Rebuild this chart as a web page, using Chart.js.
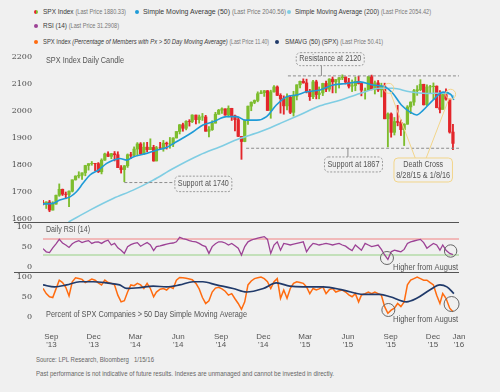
<!DOCTYPE html>
<html lang="en">
<head>
<meta charset="UTF-8">
<title>SPX Index Daily Candle, RSI and Breadth</title>
<style>
  body { margin: 0; width: 500px; height: 392px; background: #f0f0f0; position: relative; overflow: hidden;
         font-family: "Liberation Sans", Arial, sans-serif; color: #444; }
  canvas { position: absolute; left: 0; }
  .dot { position: absolute; width: 4px; height: 4px; border-radius: 50%; }
  .fit { position: absolute; white-space: nowrap; transform-origin: 0 50%; line-height: 1; }
  .lg { font-size: 7.5px; color: #3a3a3a; }
  .lg span { color: #777; font-size: 6.5px; }
  .sep { position: absolute; left: 14px; width: 445px; height: 1px; background: #555; }
  .foot { font-size: 7px; color: #666; }
</style>
</head>
<body>
  <i class="dot" style="left:34px;top:10px;background:linear-gradient(90deg,#e3262b 50%,#7dbd2e 50%)"></i>
  <div class="fit lg" data-w="83" style="left:43px;top:8px">SPX Index <span>(Last Price 1880.33)</span></div>
  <i class="dot" style="left:135px;top:10px;background:#1f9bd7"></i>
  <div class="fit lg" data-w="143" style="left:143px;top:8px">Simple Moving Average (50) <span>(Last Price 2040.56)</span></div>
  <i class="dot" style="left:287px;top:10px;background:#7fcde3"></i>
  <div class="fit lg" data-w="136" style="left:295px;top:8px">Simple Moving Average (200) <span>(Last Price 2054.42)</span></div>

  <i class="dot" style="left:34px;top:24px;background:#9c4295"></i>
  <div class="fit lg" data-w="76" style="left:43px;top:22px">RSI (14) <span>(Last Price 31.2908)</span></div>

  <i class="dot" style="left:34px;top:40px;background:#ff6b0f"></i>
  <div class="fit lg" data-w="226" style="left:43px;top:38px">SPX Index <i>(Percentage of Members with Px &gt; 50 Day Moving Average)</i> <span>(Last Price 11.40)</span></div>
  <i class="dot" style="left:275px;top:40px;background:#203a6a"></i>
  <div class="fit lg" data-w="98" style="left:285px;top:38px">SMAVG (50) (SPX) <span>(Last Price 50.41)</span></div>

  <canvas id="price" width="475" height="176" style="top:46px"></canvas>
  <canvas id="rsi" width="475" height="50" style="top:222px"></canvas>
  <canvas id="pct" width="475" height="80" style="top:272px"></canvas>
  <div class="sep" style="top:222px"></div>
  <div class="sep" style="top:272px"></div>

  <div class="fit foot" data-w="118" style="left:36px;top:356px">Source: LPL Research, Bloomberg&nbsp;&nbsp;&nbsp;1/15/16</div>
  <div class="fit foot" data-w="298" style="left:36px;top:370px">Past performance is not indicative of future results. Indexes are unmanaged and cannot be invested in directly.</div>

  <script src="https://cdn.jsdelivr.net/npm/chart.js"></script>
  <script>
    // weekly candles (week ending)
    const weeks = ['2013-08-16','2013-08-23','2013-08-30','2013-09-06','2013-09-13','2013-09-20','2013-09-27','2013-10-04','2013-10-11','2013-10-18','2013-10-25','2013-11-01','2013-11-08','2013-11-15','2013-11-22','2013-11-29','2013-12-06','2013-12-13','2013-12-20','2013-12-27',
      '2014-01-03','2014-01-10','2014-01-17','2014-01-24','2014-01-31','2014-02-07','2014-02-14','2014-02-21','2014-02-28','2014-03-07','2014-03-14','2014-03-21','2014-03-28','2014-04-04','2014-04-11','2014-04-17','2014-04-25','2014-05-02','2014-05-09','2014-05-16','2014-05-23','2014-05-30','2014-06-06','2014-06-13','2014-06-20','2014-06-27','2014-07-03','2014-07-11','2014-07-18','2014-07-25','2014-08-01','2014-08-08','2014-08-15','2014-08-22','2014-08-29','2014-09-05','2014-09-12','2014-09-19','2014-09-26','2014-10-03','2014-10-10','2014-10-17','2014-10-24','2014-10-31','2014-11-07','2014-11-14','2014-11-21','2014-11-28','2014-12-05','2014-12-12','2014-12-19','2014-12-26',
      '2015-01-02','2015-01-09','2015-01-16','2015-01-23','2015-01-30','2015-02-06','2015-02-13','2015-02-20','2015-02-27','2015-03-06','2015-03-13','2015-03-20','2015-03-27','2015-04-02','2015-04-10','2015-04-17','2015-04-24','2015-05-01','2015-05-08','2015-05-15','2015-05-22','2015-05-29','2015-06-05','2015-06-12','2015-06-19','2015-06-26','2015-07-02','2015-07-10','2015-07-17','2015-07-24','2015-07-31','2015-08-07','2015-08-14','2015-08-21','2015-08-28','2015-09-04','2015-09-11','2015-09-18','2015-09-25','2015-10-02','2015-10-09','2015-10-16','2015-10-23','2015-10-30','2015-11-06','2015-11-13','2015-11-20','2015-11-27','2015-12-04','2015-12-11','2015-12-18','2015-12-24','2015-12-31',
      '2016-01-08','2016-01-15'];
    const firstOpen = 1661;
    const spxLow = [1652,1639,1627,1633,1656,1684,1687,1675,1646,1700,1744,1752,1747,1760,1781,1799,1779,1772,1767,1817,
      1831,1823,1815,1790,1770,1738,1791,1824,1834,1834,1839,1839,1849,1857,1814,1820,1858,1851,1859,1862,1868,1900,1915,1925,1930,1944,1957,1952,1955,1965,1925,1904,1928,1956,1989,1991,1984,1978,1965,1926,1905,1821,1886,1950,2001,2027,2034,2064,2054,2002,1973,2070,
      2057,1992,1988,2004,1990,1981,2041,2085,2103,2067,2039,2046,2045,2045,2057,2072,2073,2067,2067,2085,2116,2100,2085,2072,2075,2100,2056,2044,2077,2078,2063,2072,2052,1971,1867,1903,1911,1945,1909,1872,1951,1990,2021,2058,2075,2022,2020,2067,2043,2012,1993,2006,2040,
      1918,1857];
    const spxHigh = [1669,1664,1669,1664,1689,1730,1711,1700,1704,1745,1760,1775,1771,1799,1805,1813,1806,1809,1823,1844,
      1849,1843,1850,1849,1798,1798,1841,1847,1867,1883,1883,1883,1884,1897,1873,1869,1884,1891,1885,1902,1901,1924,1950,1955,1964,1968,1986,1983,1985,1991,1984,1942,1964,1995,2006,2012,2008,2019,2009,1985,1977,1906,1965,2018,2034,2041,2071,2076,2076,2076,2077,2094,
      2093,2064,2056,2064,2057,2073,2097,2111,2119,2118,2080,2114,2114,2089,2103,2111,2120,2126,2117,2124,2134,2126,2121,2115,2126,2129,2101,2085,2128,2133,2111,2113,2103,2103,1993,1993,1976,2021,1967,1953,2020,2034,2080,2094,2116,2091,2097,2095,2104,2093,2076,2067,2082,
      2044,1951];
    const spxClose = [1655,1663,1633,1655,1688,1710,1692,1691,1703,1745,1759,1762,1771,1798,1805,1806,1805,1775,1818,1841,
      1832,1842,1838,1790,1783,1797,1838,1836,1859,1878,1841,1866,1857,1865,1815,1864,1863,1881,1878,1878,1900,1924,1949,1936,1962,1961,1985,1968,1978,1978,1925,1931,1955,1988,2003,2008,1985,2010,1982,1968,1906,1887,1965,2018,2032,2039,2064,2068,2075,2002,2071,2089,
      2058,2045,2019,2051,1995,2055,2097,2110,2104,2071,2053,2108,2061,2067,2102,2081,2118,2108,2116,2123,2126,2107,2092,2094,2110,2102,2077,2077,2127,2080,2104,2078,2092,1971,1989,1921,1961,1958,1931,1951,2015,2033,2075,2079,2099,2023,2089,2090,2092,2012,2006,2061,2044,
      1922,1880];

    const sma50Dates = ['2013-08-14','2013-09-05','2013-09-19','2013-10-11','2013-10-25','2013-11-08','2013-11-23','2013-12-11','2013-12-29','2014-01-12','2014-01-26','2014-02-10','2014-02-24','2014-03-25','2014-04-15','2014-05-07','2014-05-28','2014-07-03','2014-07-24','2014-08-15','2014-09-13','2014-10-05','2014-10-23','2014-11-17','2014-12-08','2014-12-29','2015-01-20','2015-02-10','2015-03-04','2015-04-02','2015-04-30','2015-05-29','2015-06-27','2015-07-25','2015-08-19','2015-09-06','2015-09-24','2015-10-12','2015-10-27','2015-11-10','2015-12-01','2015-12-23','2016-01-08','2016-01-15'];
    const sma50 = [1656,1658,1670,1682,1701,1732,1763,1781,1806,1818,1824,1818,1830,1843,1855,1865,1886,1923,1948,1960,1979,1979,1966,1966,1979,2022,2053,2059,2071,2078,2096,2102,2108,2096,2090,2065,2022,1997,1985,2003,2040,2070,2062,2041];

    const sma200Dates = ['2013-10-08','2013-11-23','2014-01-12','2014-02-24','2014-04-08','2014-05-21','2014-07-17','2014-08-29','2014-10-11','2014-11-24','2015-01-06','2015-02-17','2015-04-02','2015-05-15','2015-06-27','2015-08-09','2015-09-06','2015-10-12','2015-11-18','2015-12-31','2016-01-15'];
    const sma200 = [1589,1633,1676,1707,1744,1787,1837,1867,1898,1923,1954,1985,2019,2040,2065,2084,2084,2071,2065,2066,2054];

    const rsi14 = [46,38,36,48,58,69,60,55,49,58,63,66,61,64,66,59,62,63,59,64,
      67,55,59,48,42,34,51,56,59,61,52,57,61,55,41,51,53,55,57,59,
      60,63,74,71,69,66,64,63,59,54,51,34,51,58,63,63,60,55,59,53,
      47,30,51,63,67,70,72,74,76,69,34,55,63,42,59,57,55,57,59,61,
      63,38,50,59,57,55,57,59,57,55,57,59,55,52,46,41,55,48,42,59,
      55,51,53,55,44,30,19,38,42,40,38,44,59,63,65,67,69,61,47,53,
      59,55,42,55,42,34,31];

    const pctAbove50 = [71,58,50,48,70,92,86,74,52,88,98,96,94,86,90,95,92,85,80,92,
      86,84,80,54,37,40,62,80,78,84,80,71,84,71,50,62,69,71,67,75,
      71,92,99,98,97,95,93,84,70,48,33,40,62,72,74,70,64,54,58,45,
      33,18,37,80,90,96,98,100,96,88,71,88,96,46,67,46,71,84,88,86,
      84,75,58,71,67,70,75,58,68,71,62,65,67,62,55,50,58,37,54,58,
      62,58,62,58,54,25,8,16,21,33,25,37,80,92,96,100,96,92,92,86,
      80,54,33,58,46,21,12];

    const smavgDates = ['2013-08-14','2013-09-08','2013-10-04','2013-11-01','2013-11-30','2013-12-29','2014-01-26','2014-02-10','2014-03-10','2014-04-08','2014-05-07','2014-06-04','2014-07-03','2014-07-24','2014-08-22','2014-09-27','2014-10-26','2014-12-01','2014-12-29','2015-01-27','2015-02-24','2015-04-09','2015-05-22','2015-07-04','2015-08-09','2015-08-31','2015-10-05','2015-10-27','2015-11-24','2015-12-16','2015-12-31','2016-01-15'];
    const smavg50 = [80,75,80,88,88,85,80,71,73,77,75,80,88,88,80,71,62,71,85,77,75,75,67,56,56,50,37,46,67,80,75,58];

    const priceTicks = [1600,1700,1800,1900,2000,2100,2200];
    const rsiTicks = [0,50,100];
    const pctTicks = [0,50,100];
    const xTickDates = ['2013-09-01','2013-12-01','2014-03-01','2014-06-01','2014-09-01','2014-12-01','2015-03-01','2015-06-01','2015-09-01','2015-12-01','2016-01-26'];
    const xTickLabels = [['Sep',"'13"],['Dec',"'13"],['Mar',"'14"],['Jun',"'14"],['Sep',"'14"],['Dec',"'14"],['Mar',"'15"],['Jun',"'15"],['Sep',"'15"],['Dec',"'15"],['Jan',"'16"]];

    const GREEN = '#7dbd2e', RED = '#e3262b';
    const FONT = '"Liberation Sans", Arial, sans-serif';
    const DAY0 = Date.UTC(2013, 7, 1);
    function dayOf(s) { const p = s.split('-'); return (Date.UTC(+p[0], p[1] - 1, +p[2]) - DAY0) / 864e5; }
    const X_MIN = dayOf('2013-08-14'), X_MAX = dayOf('2016-01-26');

    // squeeze html labels to the width they take in the picture
    document.querySelectorAll('.fit').forEach(el => {
      const w = el.getBoundingClientRect().width;
      el.style.transform = 'scaleX(' + (el.dataset.w / w) + ')';
    });

    function fitText(c, str, x, y, w, size, align) {
      c.save();
      c.font = size + 'px ' + FONT;
      c.fillStyle = '#555';
      c.textBaseline = 'middle';
      c.textAlign = align || 'left';
      const s = w / c.measureText(str).width;
      c.translate(x, y); c.scale(s, 1);
      c.fillText(str, 0, 0);
      c.restore();
    }
    function box(c, cx, cy, w, h, stroke, dash) {
      c.save();
      c.beginPath(); c.roundRect(cx - w / 2, cy - h / 2, w, h, 4);
      c.fillStyle = '#f0f0f0'; c.fill();
      c.setLineDash(dash || []); c.strokeStyle = stroke; c.lineWidth = 1; c.stroke();
      c.restore();
    }
    function ring(c, x, y, r, col) {
      c.beginPath(); c.arc(x, y, r, 0, Math.PI * 2); c.strokeStyle = col; c.lineWidth = 1; c.stroke();
    }
    function seg(c, x1, y1, x2, y2) { c.beginPath(); c.moveTo(x1, y1); c.lineTo(x2, y2); c.stroke(); }

    function yAxis(min, max, ticks) {
      return {
        position: 'left', min, max,
        afterBuildTicks: a => { a.ticks = ticks.map(v => ({ value: v })); },
        afterFit: s => { s.width = 43; s.paddingTop = 0; s.paddingBottom = 0; },
        grid: { display: false }, border: { display: false },
        ticks: { padding: 3, color: '#4a4a4a', font: { family: '"DejaVu Serif", serif', size: 8 }, callback: v => String(v) }
      };
    }
    function xAxis(show) {
      const ax = { type: 'linear', min: X_MIN, max: X_MAX, offset: false, display: show,
        grid: { display: false, drawTicks: false }, border: { display: false } };
      if (show) {
        ax.afterBuildTicks = a => { a.ticks = xTickDates.map(d => ({ value: dayOf(d) })); };
        ax.afterFit = s => { s.height = 30; s.paddingLeft = 0; s.paddingRight = 0; };
        ax.ticks = { padding: 10, maxRotation: 0, autoSkip: false, color: '#555',
          font: { family: FONT, size: 8, lineHeight: 1.1 }, callback: (v, i) => xTickLabels[i] };
      }
      return ax;
    }
    const base = scales => ({
      responsive: false, animation: false, devicePixelRatio: 1,
      layout: { padding: { left: 0, right: 16, top: 0, bottom: 0 } },
      plugins: { legend: { display: false }, tooltip: { enabled: false } },
      scales
    });

    // weekly bars sit mid-week
    const cx = weeks.map(d => dayOf(d) - 2);
    const opens = spxClose.map((c, i) => i ? spxClose[i - 1] : firstOpen);
    const candleCol = spxClose.map((c, i) => c >= opens[i] ? GREEN : RED);
    const pts = (dates, vals) => dates.map((d, i) => ({ x: dayOf(d), y: vals[i] }));

    const priceNotes = {
      id: 'priceNotes',
      afterDatasetsDraw(ch) {
        const c = ch.ctx, a = ch.chartArea, xs = ch.scales.x, ys = ch.scales.y;
        const X = d => xs.getPixelForValue(dayOf(d)), Y = v => ys.getPixelForValue(v);
        c.save();
        fitText(c, 'SPX Index Daily Candle', a.left + 3, 15, 78, 8.5);

        c.strokeStyle = '#8c8c8c'; c.lineWidth = 1; c.setLineDash([3, 2]);
        seg(c, X('2015-01-23'), Y(2130), a.right, Y(2130));
        seg(c, X('2014-10-25'), Y(1862), a.right, Y(1862));
        seg(c, X('2014-02-05'), Y(1735), X('2014-07-25') - 28, Y(1735));
        c.setLineDash([]);
        seg(c, X('2015-04-05'), Y(2192) + 6, X('2015-04-05'), Y(2130));
        seg(c, X('2015-06-01'), Y(1862), X('2015-06-01'), Y(1802) - 7);

        box(c, X('2015-04-24'), Y(2192), 68, 13, '#9a9a9a', [2, 1.5]);
        fitText(c, 'Resistance at 2120', X('2015-04-24'), Y(2192), 62, 8.5, 'center');
        box(c, X('2015-06-13'), Y(1802), 58, 15, '#9a9a9a', [2, 1.5]);
        fitText(c, 'Support at 1867', X('2015-06-13'), Y(1802), 52, 8.5, 'center');
        box(c, X('2014-07-25'), Y(1730), 57, 15.5, '#9a9a9a', [2, 1.5]);
        fitText(c, 'Support at 1740', X('2014-07-25'), Y(1730), 51, 8.5, 'center');

        // death crosses
        const bx = X('2015-11-10'), by = Y(1781.5), bh = 24;
        const c1 = [X('2015-08-28'), Y(2084)], c2 = [X('2016-01-08'), Y(2062)];
        c.strokeStyle = '#f2d58a';
        [[c1, bx - 8], [c2, bx + 3]].forEach(([p, ex]) => {
          const dx = ex - p[0], dy = by - bh / 2 - p[1], L = Math.hypot(dx, dy);
          seg(c, p[0] + dx / L * 5, p[1] + dy / L * 5, ex, by - bh / 2);
          ring(c, p[0], p[1], 5, '#f2d58a');
        });
        box(c, bx, by, 58.5, bh, '#f2d58a');
        fitText(c, 'Death Cross', bx, by - 5, 40, 8.5, 'center');
        fitText(c, '8/28/15 & 1/8/16', bx, by + 6, 54, 8.5, 'center');
        c.restore();
      }
    };

    new Chart(document.getElementById('price'), {
      type: 'line',
      data: { datasets: [
        { data: pts(sma50Dates, sma50), borderColor: '#1f9bd7', borderWidth: 1.6, pointRadius: 0, cubicInterpolationMode: 'monotone' },
        { data: pts(sma200Dates, sma200), borderColor: '#7fcde3', borderWidth: 1.6, pointRadius: 0, cubicInterpolationMode: 'monotone' },
        { type: 'bar', data: cx.map((x, i) => ({ x, y: [opens[i], spxClose[i]] })), backgroundColor: candleCol, barThickness: 2.6, grouped: false },
        { type: 'bar', data: cx.map((x, i) => ({ x, y: [Math.min(spxLow[i], opens[i], spxClose[i]), Math.max(spxHigh[i], opens[i], spxClose[i])] })),
          backgroundColor: candleCol, barThickness: 1.2, grouped: false }
      ] },
      options: base({ x: xAxis(false), y: yAxis(1588.9, 2240.7, priceTicks) }),
      plugins: [priceNotes]
    });

    const rsiNotes = {
      id: 'rsiNotes',
      beforeDatasetsDraw(ch) {
        const c = ch.ctx, a = ch.chartArea, ys = ch.scales.y;
        c.save();
        c.lineWidth = 1.5; c.strokeStyle = '#f2a7a7'; seg(c, a.left, ys.getPixelForValue(70), a.right, ys.getPixelForValue(70));
        c.lineWidth = 1.2; c.strokeStyle = '#95d083'; seg(c, a.left, ys.getPixelForValue(30), a.right, ys.getPixelForValue(30));
        c.restore();
      },
      afterDatasetsDraw(ch) {
        const c = ch.ctx, a = ch.chartArea, xs = ch.scales.x, ys = ch.scales.y;
        c.save();
        fitText(c, 'Daily RSI (14)', a.left + 3, 8, 44, 8.5);
        ring(c, xs.getPixelForValue(dayOf('2015-08-24')), ys.getPixelForValue(22.5), 6.5, '#666');
        ring(c, xs.getPixelForValue(dayOf('2016-01-08')), ys.getPixelForValue(40), 6.2, '#666');
        fitText(c, 'Higher from August', a.right - 1, 45.5, 65, 8.5, 'right');
        c.restore();
      }
    };
    new Chart(document.getElementById('rsi'), {
      type: 'line',
      data: { datasets: [
        { data: cx.map((x, i) => ({ x, y: rsi14[i] })), borderColor: '#9c4295', borderWidth: 1.3, pointRadius: 0 }
      ] },
      options: base({ x: xAxis(false), y: yAxis(-12.5, 112.5, rsiTicks) }),
      plugins: [rsiNotes]
    });

    const pctNotes = {
      id: 'pctNotes',
      afterDraw(ch) {
        const c = ch.ctx, a = ch.chartArea, xs = ch.scales.x, ys = ch.scales.y;
        c.save();
        fitText(c, 'Percent of SPX Companies > 50 Day Simple Moving Average', a.left + 3, 43, 201, 8.5);
        ring(c, xs.getPixelForValue(dayOf('2015-08-27')), ys.getPixelForValue(16.5), 6.5, '#666');
        ring(c, xs.getPixelForValue(dayOf('2016-01-10')), ys.getPixelForValue(31.6), 7.5, '#666');
        fitText(c, 'Higher from August', a.right - 1, 47.5, 65, 8.5, 'right');
        c.restore();
      }
    };
    new Chart(document.getElementById('pct'), {
      type: 'line',
      data: { datasets: [
        { data: pts(smavgDates, smavg50), borderColor: '#203a6a', borderWidth: 1.7, pointRadius: 0, cubicInterpolationMode: 'monotone' },
        { data: cx.map((x, i) => ({ x, y: pctAbove50[i] })), borderColor: '#ff6b0f', borderWidth: 1.5, pointRadius: 0 }
      ] },
      options: base({ x: xAxis(true), y: yAxis(-13.9, 112.7, pctTicks) }),
      plugins: [pctNotes]
    });
  </script>
</body>
</html>
